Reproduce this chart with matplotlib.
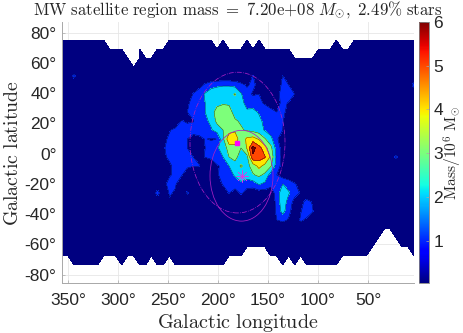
import numpy as np
import matplotlib
matplotlib.use('Agg')
import matplotlib.pyplot as plt
from matplotlib.patches import Ellipse
from matplotlib.cm import ScalarMappable
from matplotlib.colors import Normalize

plt.rcParams['mathtext.fontset'] = 'cm'
plt.rcParams['font.family'] = ['Liberation Sans', 'DejaVu Sans']

# sky grid of the map
lon = np.linspace(356, 4, 60)
lat = np.linspace(-73.5, 75, 26)

# highest and lowest filled row for every longitude column
top_row = [25]*8 + [24]*3 + [23, 22, 24, 23, 23, 24, 24] + [25]*8 + [24, 25, 24, 24, 24, 25, 24, 25] + [24]*5 + [23]*4 + [24]*3 + [25, 24, 24] + [25]*11
bottom_row = [1, 1, 0, 0, 0, 0, 0, 1, 1, 1, 0, 1, 1, 0, 0, 1, 0, 0, 1] + [0]*9 + [1, 1, 1, 2, 2, 2, 2, 1, 1, 0, 1, 0, 1] + [0]*6 + [1]*5 + [2, 3, 4, 4, 3, 2, 2, 1]

# mass per cell (10^6 Msun) around the main cloud, columns 16..42, rows 21 down to 4
first_col = 16
first_row = 21
mass_rows = [
    [0, 0, 0, 0, 0, 0, 0, 0, 0, 0, 0, 0, 0, 0, 0, 0, 1.05, 0, 0, 0, 0, 1.05, 0, 0, 0, 0, 0],
    [0, 0, 0, 0, 0, 0, 0, .6, 1.2, 1.6, 1.8, 1.9, 1.9, 1.7, 1.3, .9, 1.2, .7, 0, 0, 0, 1.4, 1.0, 0, 0, 0, 0],
    [0, 0, 0, 0, 0, 0, 1.1, 1.6, 2.1, 2.6, 2.7, 2.8, 2.8, 3.05, 2.1, 1.3, .9, 1.0, .5, 0, .5, 1.6, 1.6, 1.0, 0, 0, 0],
    [0, 0, 0, 0, 0, .8, 1.4, 1.8, 2.0, 2.6, 2.8, 2.9, 2.9, 2.7, 2.2, 1.8, 1.5, 1.2, .9, .7, .6, 1.3, .9, .3, 0, 0, 0],
    [0, 0, 0, 0, .5, 1.0, 1.3, 1.7, 2.0, 2.7, 3.3, 3.5, 3.3, 2.7, 2.5, 2.1, 2.3, 1.9, 1.5, 1.2, 1.0, 1.2, .7, 0, 0, 0, 0],
    [0, 0, 0, 0, 1.05, .9, .95, 1.5, 1.8, 2.2, 3.3, 3.6, 3.5, 3.1, 2.9, 2.8, 2.8, 2.3, 1.7, 1.5, 1.3, 1.05, .5, 0, 0, 0, 0],
    [0, 0, .9, 1.3, 1.3, 1.3, 1.4, 1.5, 1.7, 1.9, 2.4, 3.0, 3.6, 3.8, 3.1, 2.9, 2.7, 2.5, 1.9, 1.5, 1.2, 1.0, .5, 0, 0, 0, 0],
    [0, .7, 1.2, 1.5, 1.3, 1.0, .6, .7, 1.05, .9, 1.02, 2.8, 4.7, 4.7, 3.3, 4.2, 4.4, 3.9, 3.1, 2.3, 1.1, .6, 0, 0, 0, 0, 0],
    [0, .9, 1.3, 1.3, 1.2, 1.0, .7, .8, 1.0, 1.5, 1.9, 2.3, 3.5, 3.6, 3.0, 4.1, 6.4, 5.4, 4.4, 3.3, 1.5, .6, 0, 0, 0, 0, 0],
    [0, .9, 1.1, 1.2, 1.2, 1.1, 1.0, .9, 1.02, 1.2, 1.6, 2.0, 3.0, 3.4, 2.4, 2.7, 5.8, 5.5, 5.1, 3.8, 1.7, .7, 0, 0, 0, 0, 0],
    [0, 0, .9, 1.15, 1.2, 1.15, 1.05, 1.02, .6, .4, .9, 1.2, 2.0, 2.5, 3.1, 2.7, 3.4, 4.3, 3.7, 3.1, 1.5, .6, 0, 0, 0, 0, 0],
    [0, 0, .9, 1.2, 1.1, .5, 0, 0, 0, 0, .9, 1.3, 1.7, 2.1, 2.5, 2.6, 2.9, 3.2, 2.8, 1.5, 1.0, .5, .3, 0, 0, 0, 0],
    [0, .7, 1.3, 1.1, .4, 0, 0, 0, 0, 0, .5, 1.1, 1.3, 1.6, 1.8, 1.3, 1.5, 2.1, 1.8, 1.3, 1.1, 2.0, 1.6, 1.1, .6, 0, 0],
    [1.5, 0, 1.1, .9, 0, 1.2, 0, 0, 0, 0, 0, .5, 1.05, .5, 1.15, .7, .4, .5, .5, .5, 1.4, 2.7, 2.1, 1.4, .9, 0, 0],
    [0, 0, .9, 0, 0, 0, 0, 0, 0, 0, 0, 0, 0, 0, 0, 0, 0, 0, 0, 0, 1.4, 2.6, 1.6, .6, .6, 1.4, .9],
    [0, 0, 0, 0, 0, 0, 0, 0, 0, 0, 0, 0, 0, 0, 0, 0, 0, 0, 0, 0, 1.3, 2.4, 1.3, .4, .9, 1.6, 1.1],
    [0, 0, 0, 0, 0, 0, 0, 0, 0, 0, 0, 0, 0, 0, 0, 0, 0, 0, 0, 0, 1.0, 1.3, .9, 0, 1.2, .8, .4],
    [0, 0, 0, 0, 0, 0, 0, 0, 0, 0, 0, 0, 0, 0, 0, 0, 0, 0, 0, 0, 0, 0, 0, 0, .3, 0, 0],
]
# isolated cells away from the cloud: column, row, mass
spot_col = [2, 56, 59]
spot_row = [21, 12, 20]
spot_mass = [1.3, 1.25, 1.5]

levels = [0, 1, 2, 3, 4, 5, 6, 8]
cbar_ticks = [1, 2, 3, 4, 5, 6]
lon_ticks = [350, 300, 250, 200, 150, 100, 50]
lat_ticks = [80, 60, 40, 20, 0, -20, -40, -60, -80]

# region ellipses and markers (lon, lat, width, height)
outer_ellipse = (180.5, 7.3, 95, 93)
inner_ellipse = (176.5, -14.6, 63, 60)
center_point = (181, 7.3)
star_point = (176, -14.6)

z = np.zeros((len(lat), len(lon)))
for r, row in enumerate(mass_rows):
    z[first_row - r, first_col:first_col + len(row)] = row
for c, r, m in zip(spot_col, spot_row, spot_mass):
    z[r, c] = m
for c in range(len(lon)):
    z[top_row[c] + 1:, c] = np.nan
    z[:bottom_row[c], c] = np.nan

fig = plt.figure(figsize=(4.63, 3.33), dpi=100)
ax = fig.add_axes([62/463, 1 - 283/333, 352/463, 261/333])
cax = fig.add_axes([419/463, 1 - 283/333, 10/463, 261/333])

jet = plt.get_cmap('jet')
band_colors = [jet(min(l/6, 1)) for l in levels[:-1]]
ax.contourf(lon, lat, z, levels=levels, colors=band_colors, zorder=2)
ax.contour(lon, lat, z, levels=levels[1:-1], colors='k', linewidths=0.35, alpha=0.75, zorder=3)

purple = '#a81fc4'
ax.add_patch(Ellipse(outer_ellipse[:2], outer_ellipse[2], outer_ellipse[3], fill=False,
                     ec=purple, lw=0.55, ls='-.', zorder=4))
ax.add_patch(Ellipse(inner_ellipse[:2], inner_ellipse[2], inner_ellipse[3], fill=False,
                     ec=purple, lw=0.55, zorder=4))
ax.plot(*center_point, 's', color='#ff00ff', ms=3.2, zorder=5)
ax.plot(*star_point, marker=(8, 2, 0), color='#d040e8', ms=9, mew=0.4, zorder=5)

ax.set_xlim(356, 4)
ax.set_ylim(-85.5, 87)
ax.set_xticks(lon_ticks)
ax.set_xticklabels([f'{v}°' for v in lon_ticks])
ax.set_yticks(lat_ticks)
ax.set_yticklabels([f'{v}°' for v in lat_ticks])
ax.grid(True, color='#e6e6e6', lw=0.6, zorder=0)
ax.set_axisbelow(True)
for s in ['top', 'right']:
    ax.spines[s].set_visible(False)
for s in ['left', 'bottom']:
    ax.spines[s].set_color('#a8a8a8')
    ax.spines[s].set_linewidth(0.7)
ax.tick_params(direction='in', length=2.5, width=0.5, color='#a8a8a8',
               labelsize=12.5, labelcolor='#262626')
ax.tick_params(axis='x', pad=7)
ax.tick_params(axis='y', pad=4)

ax.set_xlabel(r'$\mathrm{Galactic\ longitude}$', fontsize=14.5, color='#262626', labelpad=3)
ax.set_ylabel(r'$\mathrm{Galactic\ latitude}$', fontsize=14.3, color='#262626', labelpad=1.5)
fig.text(238/463, 1 - 9.5/333, r'$\mathrm{MW\ satellite\ region\ mass}\ =\ 7.20\mathrm{e}{+}08\ M_{\odot},\ 2.49\%\ \mathrm{stars}$',
         fontsize=12.1, color='#262626', ha='center', va='center')

sm = ScalarMappable(Normalize(0.03, 6), cmap='jet')
cb = fig.colorbar(sm, cax=cax)
cb.set_ticks(cbar_ticks)
cb.ax.tick_params(direction='in', length=2, width=0.5, color='#a8a8a8',
                  labelsize=12.5, labelcolor='#262626', pad=3)
cb.outline.set_edgecolor('#808080')
cb.outline.set_linewidth(0.6)
cb.set_label(r'$\mathrm{Mass}/10^6\ \mathrm{M}_{\odot}$', fontsize=11.2, color='#262626', labelpad=-0.5)

fig.savefig('out.png', dpi=100)
